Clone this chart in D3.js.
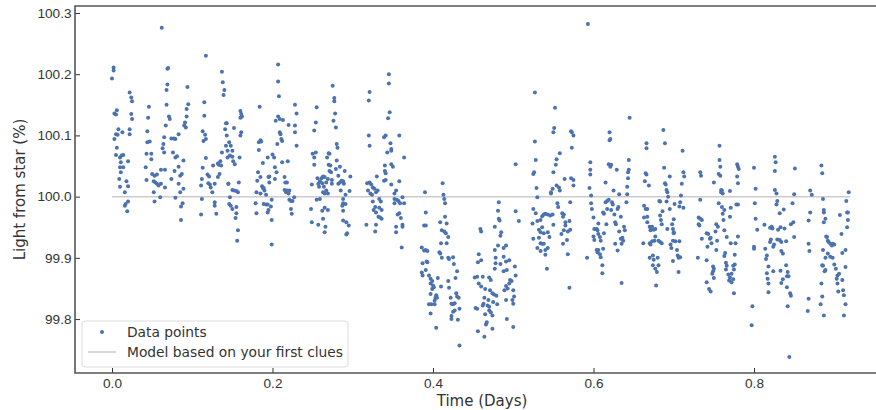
<!DOCTYPE html>
<html>
<head>
<meta charset="utf-8">
<script src="https://cdn.jsdelivr.net/npm/d3@7/dist/d3.min.js"></script>
<style>
  body { margin: 0; background: #fff; }
  svg { font-family: "DejaVu Sans", sans-serif; }
</style>
</head>
<body>
<div class="chart"></div>
<script>
let dataPoints = [
  [0.000,100.193],[0.002,100.206],[0.002,100.211],[0.003,100.136],[0.006,100.141],[0.005,100.134],[0.003,100.094],[0.005,100.102],
  [0.008,100.110],[0.007,100.101],[0.013,100.105],[0.006,100.080],[0.005,100.068],[0.010,100.064],[0.012,100.067],[0.014,100.068],
  [0.011,100.056],[0.010,100.048],[0.014,100.048],[0.011,100.040],[0.009,100.029],[0.010,100.016],[0.016,100.007],[0.018,100.025],
  [0.020,100.017],[0.017,99.988],[0.020,99.992],[0.019,99.976],[0.016,99.985],[0.022,100.170],[0.024,100.162],[0.025,100.156],
  [0.024,100.135],[0.025,100.127],[0.022,100.110],[0.022,100.102],[0.020,100.058],
  [0.046,100.147],[0.045,100.129],[0.044,100.107],[0.044,100.089],[0.047,100.090],[0.043,100.070],[0.049,100.070],[0.049,100.061],
  [0.042,100.048],[0.043,100.027],[0.050,100.037],[0.053,100.034],[0.056,100.036],[0.052,100.025],[0.054,100.023],[0.056,100.021],
  [0.058,100.018],[0.061,100.021],[0.052,100.007],[0.053,99.992],[0.060,99.999],[0.062,100.276],[0.069,100.209],[0.070,100.210],
  [0.069,100.183],[0.068,100.174],[0.068,100.150],[0.071,100.131],[0.072,100.127],[0.067,100.116],[0.065,100.097],[0.064,100.086],
  [0.063,100.079],[0.065,100.072],[0.061,100.044],[0.066,100.044],[0.066,100.015],[0.074,100.095],[0.077,100.095],[0.079,100.094],
  [0.076,100.072],[0.079,100.064],[0.081,100.066],[0.078,100.042],[0.074,100.029],[0.079,99.998],[0.083,100.049],[0.085,100.034],
  [0.087,100.037],[0.083,100.021],[0.085,100.007],[0.089,100.013],[0.086,99.984],[0.088,99.989],[0.086,99.962],[0.083,100.102],
  [0.089,100.059],[0.090,100.116],[0.091,100.121],[0.093,100.131],[0.093,100.143],[0.095,100.151],[0.094,100.179],[0.092,100.113],
  [0.117,100.230],[0.115,100.154],[0.115,100.132],[0.113,100.107],[0.116,100.101],[0.114,100.091],[0.117,100.094],[0.117,100.063],
  [0.113,100.047],[0.112,100.029],[0.111,100.018],[0.112,99.996],[0.111,99.971],[0.119,100.036],[0.121,100.033],[0.120,100.022],
  [0.122,100.020],[0.123,100.015],[0.125,100.007],[0.126,100.051],[0.128,100.021],[0.128,99.991],[0.128,99.985],[0.130,99.972],
  [0.132,100.054],[0.133,100.052],[0.135,100.058],[0.136,100.051],[0.132,100.032],[0.134,100.037],[0.137,100.072],[0.137,100.204],
  [0.138,100.187],[0.140,100.174],[0.139,100.166],[0.142,100.120],[0.143,100.120],[0.141,100.110],[0.143,100.100],[0.142,100.083],
  [0.144,100.075],[0.144,100.064],[0.145,100.021],[0.146,99.988],
  [0.146,100.089],[0.148,100.083],[0.150,100.075],[0.147,100.067],[0.150,100.065],[0.151,100.058],[0.153,100.053],[0.152,100.112],
  [0.159,100.064],[0.160,100.140],[0.161,100.135],[0.162,100.131],[0.160,100.129],[0.161,100.105],[0.160,100.100],[0.158,100.023],
  [0.150,100.011],[0.152,100.010],[0.155,100.009],[0.157,100.007],[0.147,99.999],[0.148,99.985],[0.150,99.980],[0.155,99.983],
  [0.155,99.973],[0.154,99.965],[0.157,99.945],[0.156,99.928],[0.145,100.021],
  [0.184,100.147],[0.183,100.089],[0.185,100.092],[0.186,100.090],[0.183,100.076],[0.188,100.055],[0.182,100.040],[0.185,100.032],
  [0.181,100.026],[0.187,100.017],[0.180,100.007],[0.185,100.005],[0.188,100.014],[0.190,100.010],[0.189,100.014],[0.192,100.003],
  [0.179,99.989],[0.180,99.973],[0.189,99.988],[0.192,99.987],[0.194,99.987],[0.198,99.984],[0.194,99.974],[0.195,99.978],
  [0.199,99.995],[0.199,99.962],[0.199,99.922],[0.194,100.064],[0.195,100.032],[0.196,100.033],[0.196,100.023],[0.200,100.069],
  [0.202,100.064],[0.203,100.048],[0.205,100.040],[0.203,100.029],[0.206,100.086],[0.204,100.124],[0.207,100.216],[0.207,100.188],
  [0.208,100.164],[0.207,100.131],[0.209,100.127],[0.209,100.105],[0.210,100.102],[0.211,100.094],[0.212,100.091],[0.212,100.056],
  [0.213,100.125],[0.215,100.032],[0.216,100.023],[0.218,100.023],[0.215,100.011],[0.217,100.007],[0.218,100.010],[0.220,100.005],
  [0.221,100.010],[0.219,100.058],[0.220,100.117],[0.221,99.995],[0.223,99.993],[0.225,99.993],[0.227,99.999],[0.223,99.980],
  [0.224,99.972],[0.228,100.150],[0.230,100.136],[0.228,100.116],[0.228,100.105],[0.230,100.083],
  [0.255,100.146],[0.254,100.121],[0.252,100.108],[0.250,100.070],[0.254,100.072],[0.252,100.064],[0.252,100.052],[0.249,100.020],
  [0.256,100.030],[0.257,100.021],[0.258,100.016],[0.259,100.025],[0.255,99.995],[0.248,99.980],[0.249,99.958],[0.257,99.954],
  [0.259,99.996],[0.261,100.030],[0.263,100.033],[0.265,100.032],[0.262,100.022],[0.264,100.016],[0.263,100.007],[0.265,100.005],
  [0.267,100.010],[0.267,100.023],[0.269,100.029],[0.262,99.977],[0.265,99.982],[0.269,99.978],[0.263,99.964],[0.266,99.951],
  [0.265,99.942],[0.268,100.064],[0.270,100.071],[0.271,100.070],[0.270,100.052],[0.272,100.051],[0.271,100.042],[0.273,100.040],
  [0.269,100.005],[0.274,100.027],[0.274,100.021],[0.275,100.181],[0.277,100.161],[0.277,100.156],[0.278,100.136],[0.276,100.124],
  [0.279,100.113],[0.280,100.086],[0.281,100.080],[0.280,100.059],[0.279,100.045],[0.282,100.034],[0.282,100.021],[0.284,100.023],
  [0.284,100.049],[0.285,100.010],[0.286,100.026],[0.288,100.025],[0.289,100.021],[0.290,100.042],[0.291,100.003],[0.288,99.996],
  [0.288,99.989],[0.287,99.985],[0.288,99.977],[0.291,99.988],[0.288,99.961],[0.292,99.958],[0.295,99.953],[0.293,99.940],
  [0.292,99.938],[0.297,100.033],[0.296,100.009],
  [0.321,100.171],[0.320,100.157],[0.320,100.100],[0.321,100.083],[0.318,100.022],[0.321,100.023],[0.323,100.020],[0.325,100.015],
  [0.327,100.013],[0.319,100.010],[0.322,100.005],[0.324,100.003],[0.329,100.007],[0.331,100.010],[0.330,100.033],[0.325,99.992],
  [0.333,99.996],[0.335,99.992],[0.328,99.983],[0.326,99.978],[0.333,99.982],[0.336,99.978],[0.329,99.974],[0.332,99.967],
  [0.334,99.966],[0.336,99.964],[0.317,99.954],[0.329,99.954],[0.328,99.943],[0.339,100.097],[0.341,100.100],[0.340,100.051],
  [0.340,100.042],[0.341,100.038],[0.339,100.026],[0.341,100.027],[0.343,100.072],[0.345,100.200],[0.345,100.185],[0.346,100.138],
  [0.344,100.128],[0.347,100.087],[0.348,100.075],[0.348,100.078],[0.348,100.053],[0.350,100.049],[0.348,100.020],[0.352,100.005],
  [0.354,100.010],[0.352,99.996],[0.355,99.995],[0.357,99.993],[0.352,99.989],[0.359,99.989],[0.362,99.999],[0.364,99.989],
  [0.358,99.973],[0.356,99.971],[0.360,99.965],[0.358,100.100],[0.358,100.025],[0.364,100.064],[0.354,99.951],[0.362,99.954],
  [0.362,99.951],[0.354,99.942],[0.361,99.917],
  [0.390,100.007],[0.391,99.974],[0.389,99.953],[0.391,99.953],[0.386,99.917],[0.389,99.912],[0.391,99.913],[0.393,99.911],
  [0.387,99.891],[0.392,99.894],[0.393,99.893],[0.391,99.880],[0.386,99.876],[0.387,99.871],[0.395,99.871],[0.397,99.866],
  [0.399,99.862],[0.397,99.858],[0.400,99.855],[0.399,99.849],[0.401,99.852],[0.406,99.867],[0.397,99.841],[0.404,99.839],
  [0.403,99.835],[0.405,99.835],[0.402,99.830],[0.395,99.824],[0.398,99.824],[0.402,99.824],[0.397,99.809],[0.404,99.786],
  [0.410,99.853],[0.412,100.022],[0.413,100.003],[0.414,99.996],[0.415,99.989],[0.415,99.967],[0.417,99.956],[0.409,99.958],
  [0.411,99.945],[0.414,99.943],[0.416,99.940],[0.419,99.934],[0.417,99.924],[0.410,99.924],[0.408,99.909],[0.409,99.907],
  [0.411,99.900],[0.419,99.900],[0.420,99.898],[0.425,99.901],[0.426,99.890],[0.430,99.878],[0.428,99.867],[0.419,99.862],
  [0.420,99.851],[0.429,99.842],[0.430,99.837],[0.432,99.835],[0.422,99.835],[0.423,99.825],[0.425,99.824],[0.427,99.826],
  [0.433,99.817],[0.425,99.812],[0.427,99.814],[0.423,99.805],[0.423,99.800],[0.431,99.799],[0.433,99.757],[0.452,99.868],
  [0.453,99.818],
  [0.459,99.947],[0.460,99.943],[0.457,99.906],[0.460,99.896],[0.456,99.893],[0.455,99.869],[0.462,99.869],[0.457,99.858],
  [0.460,99.853],[0.465,99.849],[0.470,99.868],[0.472,99.864],[0.471,99.847],[0.474,99.842],[0.476,99.840],[0.479,99.838],
  [0.464,99.835],[0.469,99.831],[0.463,99.825],[0.468,99.822],[0.462,99.822],[0.470,99.820],[0.475,99.828],[0.480,99.824],
  [0.455,99.817],[0.470,99.814],[0.472,99.811],[0.474,99.806],[0.465,99.808],[0.467,99.795],[0.466,99.791],[0.474,99.784],
  [0.456,99.780],[0.464,99.771],[0.482,99.991],[0.481,99.977],[0.482,99.964],[0.483,99.961],[0.477,99.951],[0.485,99.942],
  [0.484,99.936],[0.481,99.920],[0.477,99.913],[0.488,99.916],[0.491,99.920],[0.478,99.900],[0.478,99.891],[0.484,99.890],
  [0.488,99.902],[0.491,99.894],[0.495,99.896],[0.477,99.882],[0.488,99.878],[0.492,99.880],[0.496,99.864],[0.495,99.858],
  [0.498,99.862],[0.491,99.854],[0.493,99.850],[0.489,99.847],[0.502,99.886],[0.503,99.871],[0.500,99.847],[0.501,99.837],
  [0.491,99.831],[0.499,99.831],[0.500,99.825],[0.492,99.800],[0.500,99.787],[0.503,100.053],[0.503,99.976],[0.507,99.960],
  [0.527,100.170],[0.527,100.090],[0.528,100.060],[0.526,100.040],[0.525,100.037],[0.529,100.014],[0.530,99.999],[0.525,99.980],
  [0.528,99.973],[0.530,99.960],[0.524,99.956],[0.534,99.962],[0.536,99.968],[0.538,99.971],[0.540,99.972],[0.532,99.946],
  [0.536,99.950],[0.534,99.942],[0.538,99.940],[0.543,99.942],[0.525,99.931],[0.532,99.933],[0.534,99.924],[0.536,99.923],
  [0.538,99.923],[0.530,99.916],[0.534,99.911],[0.540,99.913],[0.543,99.916],[0.545,99.934],[0.540,99.905],[0.542,99.882],
  [0.543,99.971],[0.546,99.969],[0.549,99.971],[0.550,99.954],[0.547,100.005],[0.547,100.007],[0.549,100.013],[0.550,100.040],
  [0.553,100.052],[0.554,100.061],[0.558,100.071],[0.552,100.145],[0.551,100.112],[0.550,100.105],[0.554,100.018],[0.557,100.015],
  [0.558,100.010],[0.555,99.989],[0.556,99.983],[0.561,99.973],[0.563,99.971],[0.562,99.967],[0.565,99.958],[0.565,99.953],
  [0.563,99.945],[0.570,99.960],[0.571,99.946],[0.568,99.943],[0.560,99.939],[0.562,99.923],[0.567,99.929],[0.568,99.906],
  [0.570,99.851],[0.564,100.029],[0.571,99.991],[0.572,100.107],[0.573,100.105],[0.575,100.100],[0.573,100.080],[0.572,100.030],
  [0.575,100.027],[0.575,100.018],[0.593,100.282],[0.596,100.056],[0.596,100.044],[0.596,100.036],[0.595,100.014],[0.597,100.002],
  [0.597,99.989],[0.598,99.980],[0.600,99.966],[0.601,99.947],[0.600,99.935],[0.601,99.929],[0.604,99.913],[0.605,99.909],
  [0.592,99.900],[0.604,99.947],
  [0.606,99.956],[0.605,99.945],[0.606,99.939],[0.608,99.934],[0.609,99.928],[0.613,99.940],[0.606,99.913],[0.608,99.906],
  [0.609,99.901],[0.611,99.888],[0.611,99.875],[0.612,99.915],[0.612,99.974],[0.613,99.972],[0.615,100.023],[0.615,99.991],
  [0.617,99.993],[0.619,99.995],[0.616,99.955],[0.617,99.980],[0.620,100.105],[0.620,100.092],[0.621,100.094],[0.619,100.053],
  [0.621,100.049],[0.622,100.052],[0.623,99.991],[0.624,99.987],[0.622,99.978],[0.625,100.010],[0.627,99.958],[0.628,99.955],
  [0.626,99.971],[0.627,99.923],[0.630,99.980],[0.631,99.983],[0.629,100.044],[0.630,99.912],[0.632,100.004],[0.632,99.943],
  [0.634,99.967],[0.635,99.859],[0.634,99.931],[0.635,99.923],[0.636,99.933],[0.637,99.928],[0.639,99.945],[0.638,99.951],
  [0.641,99.991],[0.642,100.004],[0.642,100.016],[0.643,100.030],[0.643,100.040],[0.644,100.044],[0.644,100.060],[0.645,100.129],
  [0.666,100.087],[0.666,100.079],[0.665,100.038],[0.666,100.036],[0.664,100.025],[0.669,100.018],[0.663,99.985],[0.665,99.980],
  [0.667,99.980],[0.663,99.966],[0.667,99.967],[0.667,99.958],[0.670,99.951],[0.671,99.950],[0.673,99.951],[0.671,99.945],
  [0.675,99.946],[0.677,99.947],[0.662,99.924],[0.670,99.924],[0.673,99.927],[0.671,99.922],[0.676,99.928],[0.677,99.935],
  [0.670,99.900],[0.674,99.904],[0.675,99.897],[0.680,99.900],[0.674,99.888],[0.677,99.882],[0.679,99.877],[0.681,99.888],
  [0.678,99.855],[0.681,99.928],[0.683,99.926],[0.685,99.924],[0.683,99.969],[0.684,99.962],[0.685,99.955],[0.683,99.992],
  [0.682,99.993],[0.686,99.976],[0.687,100.109],[0.689,100.087],[0.688,100.047],[0.689,100.022],[0.690,100.020],[0.691,100.011],
  [0.692,100.007],[0.693,100.000],[0.691,99.992],[0.692,99.947],[0.695,100.033],[0.695,99.980],[0.696,99.922],[0.697,99.916],
  [0.698,99.955],[0.699,99.947],[0.700,99.942],[0.700,99.940],[0.699,99.928],[0.701,99.988],[0.700,99.963],[0.699,99.895],
  [0.702,99.927],[0.704,99.913],[0.705,99.904],[0.706,99.900],[0.707,99.927],[0.708,99.901],[0.706,99.877],[0.707,99.984],
  [0.708,99.991],[0.709,100.002],[0.710,100.021],[0.711,100.075],[0.712,100.040],[0.713,100.033],[0.712,99.982],
  [0.733,100.040],[0.734,100.034],[0.733,99.995],[0.731,99.966],[0.733,99.964],[0.735,99.962],[0.731,99.955],[0.732,99.953],
  [0.730,99.900],[0.735,99.931],[0.741,99.940],[0.743,99.939],[0.745,99.931],[0.742,99.918],[0.746,99.933],[0.747,99.924],
  [0.741,99.896],[0.750,100.023],[0.752,99.943],[0.754,99.928],[0.753,99.913],[0.749,99.886],[0.750,99.882],[0.749,99.878],
  [0.748,99.874],[0.750,99.867],[0.741,99.860],[0.744,99.849],[0.746,99.845],[0.753,99.955],[0.755,99.951],[0.757,100.083],
  [0.757,100.060],[0.756,100.037],[0.758,100.034],[0.759,100.011],[0.759,100.007],[0.756,99.989],
  [0.758,100.049],[0.760,100.010],[0.761,100.005],[0.760,99.983],[0.761,99.972],[0.762,99.962],[0.763,99.978],[0.770,100.009],
  [0.771,99.982],[0.770,99.967],[0.763,99.945],[0.766,99.934],[0.771,99.924],[0.764,99.908],[0.763,99.903],[0.765,99.892],
  [0.766,99.887],[0.765,99.881],[0.768,99.873],[0.770,99.868],[0.772,99.874],[0.769,99.863],[0.774,99.865],[0.772,99.860],
  [0.774,99.887],[0.776,99.889],[0.775,99.881],[0.775,99.842],[0.776,99.905],[0.777,99.924],[0.780,99.935],[0.778,99.987],
  [0.780,99.987],[0.779,100.053],[0.780,100.049],[0.781,100.045],[0.779,100.033],[0.780,100.022],
  [0.800,100.047],[0.802,100.013],[0.801,99.989],[0.802,99.964],[0.804,99.946],[0.800,99.918],[0.800,99.915],[0.798,99.821],
  [0.797,99.790],
  [0.813,99.954],[0.814,99.915],[0.815,99.898],[0.816,99.904],[0.818,99.886],[0.816,99.875],[0.817,99.866],[0.818,99.858],
  [0.818,99.844],[0.820,99.926],[0.821,99.930],[0.822,99.951],[0.820,99.949],[0.823,99.948],[0.824,99.918],[0.825,99.922],
  [0.824,99.878],[0.826,100.065],[0.827,100.056],[0.826,100.042],[0.826,100.011],[0.828,100.005],[0.829,99.993],[0.828,99.987],
  [0.830,99.946],[0.829,99.930],[0.832,99.973],[0.832,99.929],[0.834,99.926],[0.833,99.950],[0.834,99.911],[0.836,99.907],
  [0.833,99.879],[0.836,99.865],[0.834,99.859],[0.837,99.979],[0.838,99.948],[0.840,99.927],[0.840,99.888],[0.841,99.870],
  [0.842,99.877],[0.841,99.852],[0.843,99.870],[0.845,99.842],[0.846,99.838],[0.842,99.821],[0.844,99.738],[0.846,99.955],
  [0.848,99.989],[0.849,99.958],[0.850,100.004],[0.850,99.934],[0.851,100.046],
  [0.868,99.833],[0.867,99.813],[0.868,99.923],[0.869,99.911],[0.868,99.961],[0.870,99.974],[0.870,100.010],[0.872,100.003],
  [0.884,100.051],[0.885,100.038],[0.886,99.996],[0.887,99.978],[0.887,99.974],[0.889,99.964],[0.887,99.958],[0.890,99.935],
  [0.891,99.934],[0.892,99.928],[0.893,99.926],[0.895,99.923],[0.897,99.920],[0.898,99.923],[0.900,99.922],[0.886,99.913],
  [0.892,99.907],[0.889,99.900],[0.895,99.902],[0.898,99.900],[0.885,99.888],[0.886,99.887],[0.889,99.880],[0.888,99.878],
  [0.900,99.889],[0.902,99.882],[0.904,99.871],[0.906,99.874],[0.903,99.866],[0.904,99.858],[0.905,99.845],[0.884,99.858],
  [0.885,99.837],[0.883,99.824],[0.887,99.806],[0.907,99.970],[0.909,99.939],[0.910,99.908],[0.910,99.864],[0.911,99.847],
  [0.912,99.839],[0.914,99.824],[0.912,99.806],[0.914,99.885],[0.914,99.913],[0.915,99.993],[0.916,99.974],[0.917,99.962],
  [0.916,99.950],[0.918,100.007],[0.917,99.974]
];

/** Model line (flat, no transit) */
let modelTime = [0.0, 0.92];
let modelLight = [100.0, 100.0];

/** Tick values */
let xTicks = [0.0, 0.2, 0.4, 0.6, 0.8];
let yTicks = [99.8, 99.9, 100.0, 100.1, 100.2, 100.3];

let legendLabels = ["Data points", "Model based on your first clues"];

/** canvas */
let width = 876, height = 410;
let margin = { top: 6, right: -2, bottom: 37, left: 75 };
let draw_width = width - margin.left - margin.right, draw_height = height - margin.top - margin.bottom;

let svg = d3.select('.chart').append('svg')
    .attr('width', width)
    .attr('height', height);

let canvas = svg.append('g')
    .attr('transform', `translate(${margin.left}, ${margin.top})`);

/** scales */
let xScale = d3.scaleLinear()
    .domain([-0.0461, 0.9545])
    .range([0, draw_width]);

let yScale = d3.scaleLinear()
    .domain([99.7119, 100.3114])
    .range([draw_height, 0]);

let pointColor = '#4c72b0';
let modelColor = '#cccccc';
let inkColor = '#333333';

/** axes, ticks pointing inward like the original */
let xAxis = d3.axisBottom(xScale).tickValues(xTicks).tickFormat(d3.format('.1f')).tickSizeInner(-5).tickSizeOuter(0).tickPadding(5);
let yAxis = d3.axisLeft(yScale).tickValues(yTicks).tickFormat(d3.format('.1f')).tickSizeInner(-5).tickSizeOuter(0).tickPadding(3.5);

let gx = canvas.append('g')
    .attr('transform', `translate(0, ${draw_height})`)
    .call(xAxis);
let gy = canvas.append('g')
    .call(yAxis);

[gx, gy].forEach(function (g) {
    g.select('.domain').remove();
    g.selectAll('.tick line').attr('stroke', inkColor).attr('stroke-width', 1);
    g.selectAll('.tick text').attr('fill', inkColor).style('font-size', '13.6px');
});

/** frame (left, top, bottom; right side is cut off in the original) */
canvas.append('path')
    .attr('d', `M${draw_width},0 H0 V${draw_height} H${draw_width}`)
    .attr('fill', 'none')
    .attr('stroke', '#555555')
    .attr('stroke-width', 1.6);

/** model line */
canvas.append('path')
    .datum(d3.zip(modelTime, modelLight))
    .attr('fill', 'none')
    .attr('stroke', modelColor)
    .attr('stroke-width', 1.5)
    .attr('d', d3.line().x(function (d) { return xScale(d[0]); }).y(function (d) { return yScale(d[1]); }));

/** data points */
canvas.selectAll('.dots')
    .data(dataPoints)
    .enter()
        .append('circle')
        .attr('class', 'dots')
        .attr('cx', function (d) { return xScale(d[0]); })
        .attr('cy', function (d) { return yScale(d[1]); })
        .attr('r', 2)
        .attr('fill', pointColor);

/** axis labels */
svg.append('text')
    .attr('x', 482)
    .attr('y', 406)
    .attr('text-anchor', 'middle')
    .attr('fill', inkColor)
    .style('font-size', '15px')
    .text('Time (Days)');

svg.append('text')
    .attr('transform', `translate(25, ${margin.top + draw_height / 2}) rotate(-90)`)
    .attr('text-anchor', 'middle')
    .attr('fill', inkColor)
    .style('font-size', '15px')
    .text('Light from star (%)');

/** legend */
let legend = svg.append('g').attr('transform', 'translate(82, 321)');
legend.append('rect')
    .attr('width', 266)
    .attr('height', 46)
    .attr('rx', 3)
    .attr('fill', 'white')
    .attr('fill-opacity', 0.85)
    .attr('stroke', '#dddddd');
legend.append('circle')
    .attr('cx', 20)
    .attr('cy', 11)
    .attr('r', 2)
    .attr('fill', pointColor);
legend.append('line')
    .attr('x1', 6).attr('x2', 34)
    .attr('y1', 31).attr('y2', 31)
    .attr('stroke', modelColor)
    .attr('stroke-width', 1.5);
legend.selectAll('.legend-text')
    .data(legendLabels)
    .enter()
        .append('text')
        .attr('class', 'legend-text')
        .attr('x', 45)
        .attr('y', function (d, i) { return 11 + i * 20; })
        .attr('dy', '0.35em')
        .attr('fill', inkColor)
        .style('font-size', '13.8px')
        .text(function (d) { return d; });
</script>
</body>
</html>
